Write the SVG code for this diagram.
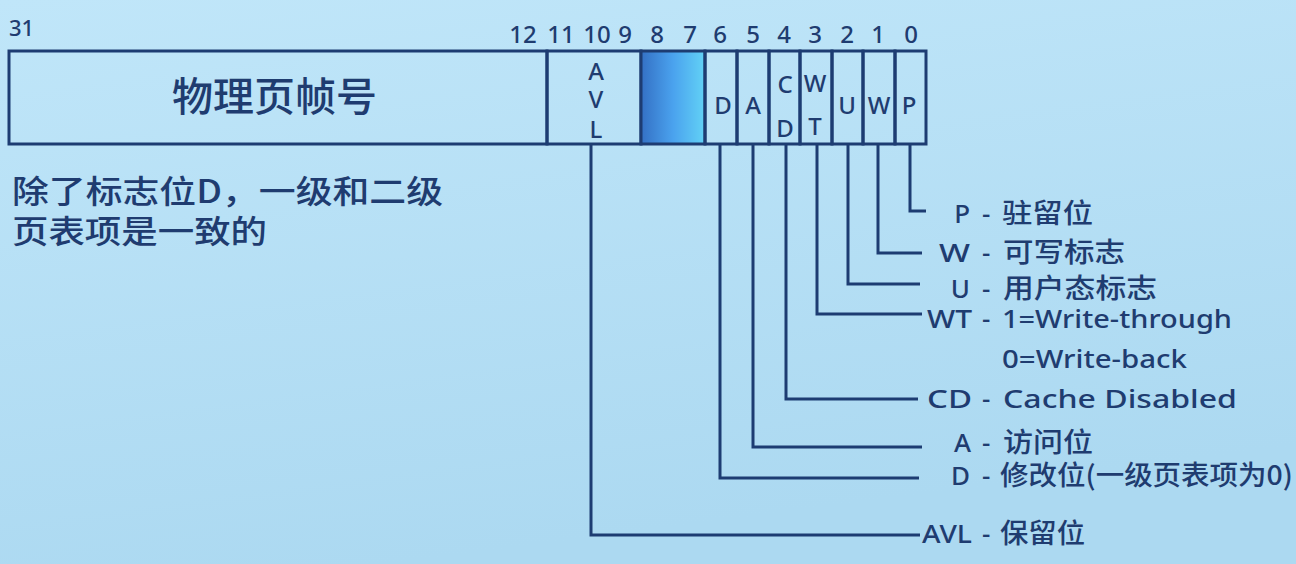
<svg xmlns="http://www.w3.org/2000/svg" width="1296" height="564" viewBox="0 0 1296 564">
<defs>
<linearGradient id="bg" x1="0" y1="0" x2="0.3" y2="1">
<stop offset="0" stop-color="#c0e6f9"/>
<stop offset="1" stop-color="#acd9f1"/>
</linearGradient>
<linearGradient id="blue" x1="0" y1="0" x2="1" y2="0">
<stop offset="0" stop-color="#3470c4"/>
<stop offset="0.5" stop-color="#4aa2ee"/>
<stop offset="1" stop-color="#62d2f6"/>
</linearGradient>
<style>
.t{font-family:"Noto Sans","Noto Sans CJK SC",sans-serif;fill:#1f3c70;font-weight:500}
.c{font-family:"Noto Sans CJK SC","Noto Sans",sans-serif;fill:#1f3c70;font-weight:500}
.num{font-size:24px;text-anchor:middle}
.cell{font-size:24px;text-anchor:middle}
.lbl{font-size:26px}
.cl{font-size:27px}
.ab{text-anchor:end}
.box{fill:none;stroke:#1d3c72;stroke-width:3}
.ln{fill:none;stroke:#1d3c72;stroke-width:3}
</style>
</defs>
<rect width="1296" height="564" fill="url(#bg)"/>

<g id="bit-numbers">
<text class="t" x="9" y="36" font-size="22">31</text>
<text class="t num" x="523" y="43">12</text>
<text class="t num" x="561" y="43">11</text>
<text class="t num" x="597" y="43">10</text>
<text class="t num" x="625" y="43">9</text>
<text class="t num" x="657" y="43">8</text>
<text class="t num" x="690" y="43">7</text>
<text class="t num" x="720" y="43">6</text>
<text class="t num" x="753" y="43">5</text>
<text class="t num" x="784" y="43">4</text>
<text class="t num" x="815" y="43">3</text>
<text class="t num" x="847" y="43">2</text>
<text class="t num" x="878" y="43">1</text>
<text class="t num" x="911" y="43">0</text>
</g>

<g id="frame-number">
<rect class="box" x="9" y="51" width="538" height="93"/>
<text class="c" x="172" y="111" font-size="40" textLength="205" lengthAdjust="spacingAndGlyphs">物理页帧号</text>
</g>
<g id="avl-field">
<rect class="box" x="547" y="51" width="94" height="93"/>
<text class="t cell" x="596" y="80">A</text>
<text class="t cell" x="596" y="108">V</text>
<text class="t cell" x="596" y="138">L</text>
</g>
<g id="bits-8-7">
<rect x="641" y="51" width="64" height="93" fill="url(#blue)" stroke="#1d3c72" stroke-width="3"/>
</g>
<g id="d-bit">
<rect class="box" x="705" y="51" width="32" height="93"/>
<text class="t cell" x="723" y="114">D</text>
</g>
<g id="a-bit">
<rect class="box" x="737" y="51" width="32" height="93"/>
<text class="t cell" x="753" y="114">A</text>
</g>
<g id="cd-bit">
<rect class="box" x="769" y="51" width="31" height="93"/>
<text class="t cell" x="785" y="93">C</text>
<text class="t cell" x="785" y="137">D</text>
</g>
<g id="wt-bit">
<rect class="box" x="800" y="51" width="32" height="93"/>
<text class="t cell" x="815" y="92">W</text>
<text class="t cell" x="815" y="135">T</text>
</g>
<g id="u-bit">
<rect class="box" x="832" y="51" width="31" height="93"/>
<text class="t cell" x="847" y="114">U</text>
</g>
<g id="w-bit">
<rect class="box" x="863" y="51" width="32" height="93"/>
<text class="t cell" x="879" y="114">W</text>
</g>
<g id="p-bit">
<rect class="box" x="895" y="51" width="31" height="93"/>
<text class="t cell" x="909" y="114">P</text>
</g>

<g id="note">
<text class="c" x="12" y="203" font-size="32" textLength="431" lengthAdjust="spacingAndGlyphs">除了标志位D，一级和二级</text>
<text class="c" x="12" y="243" font-size="32" textLength="255" lengthAdjust="spacingAndGlyphs">页表项是一致的</text>
</g>

<g id="connectors">
<path class="ln" d="M910,144 V211 H926"/>
<path class="ln" d="M878,144 V253 H922"/>
<path class="ln" d="M848,144 V284 H920"/>
<path class="ln" d="M817,144 V314 H922"/>
<path class="ln" d="M786,144 V399 H918"/>
<path class="ln" d="M753,144 V447 H922"/>
<path class="ln" d="M720,144 V478 H919"/>
<path class="ln" d="M591,144 V535 H920"/>
</g>

<g id="legend-p"><text class="t lbl ab" x="970" y="223">P</text><text class="t lbl" x="982" y="223">-</text><text class="c cl" x="1002" y="223" textLength="91" lengthAdjust="spacingAndGlyphs">驻留位</text></g>
<g id="legend-w"><text class="t lbl" x="939" y="262" textLength="31" lengthAdjust="spacingAndGlyphs">W</text><text class="t lbl" x="982" y="262">-</text><text class="c cl" x="1003" y="262" textLength="122" lengthAdjust="spacingAndGlyphs">可写标志</text></g>
<g id="legend-u"><text class="t lbl ab" x="970" y="298">U</text><text class="t lbl" x="982" y="298">-</text><text class="c cl" x="1003" y="298" textLength="154" lengthAdjust="spacingAndGlyphs">用户态标志</text></g>
<g id="legend-wt"><text class="t lbl" x="927" y="328" textLength="45" lengthAdjust="spacingAndGlyphs">WT</text><text class="t lbl" x="982" y="328">-</text><text class="t lbl" x="1002" y="328" textLength="230" lengthAdjust="spacingAndGlyphs">1=Write-through</text><text class="t lbl" x="1002" y="368" textLength="185" lengthAdjust="spacingAndGlyphs">0=Write-back</text></g>
<g id="legend-cd"><text class="t lbl" x="927" y="408" textLength="45" lengthAdjust="spacingAndGlyphs">CD</text><text class="t lbl" x="982" y="408">-</text><text class="t lbl" x="1003" y="408" textLength="234" lengthAdjust="spacingAndGlyphs">Cache Disabled</text></g>
<g id="legend-a"><text class="t lbl ab" x="971" y="452">A</text><text class="t lbl" x="982" y="452">-</text><text class="c cl" x="1003" y="452" textLength="90" lengthAdjust="spacingAndGlyphs">访问位</text></g>
<g id="legend-d"><text class="t lbl ab" x="970" y="485">D</text><text class="t lbl" x="982" y="485">-</text><text class="c cl" x="1000" y="485" textLength="293" lengthAdjust="spacingAndGlyphs">修改位(一级页表项为0)</text></g>
<g id="legend-avl"><text class="t lbl" x="922" y="543" textLength="50" lengthAdjust="spacingAndGlyphs">AVL</text><text class="t lbl" x="982" y="543">-</text><text class="c cl" x="1000" y="543" textLength="85" lengthAdjust="spacingAndGlyphs">保留位</text></g>
</svg>
